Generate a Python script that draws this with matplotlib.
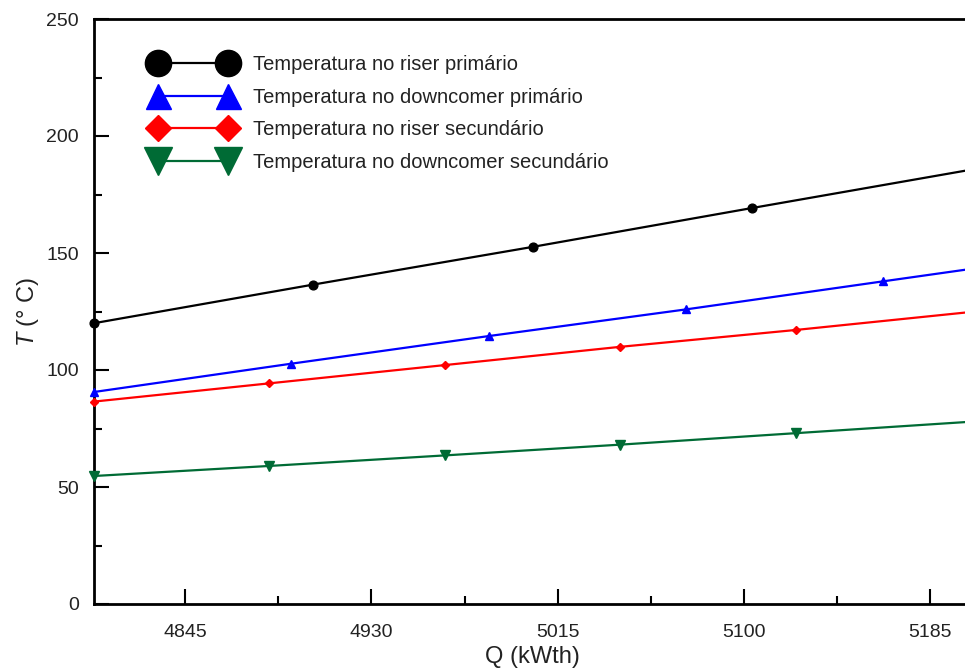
import matplotlib
matplotlib.use("Agg")
import matplotlib.pyplot as plt
from matplotlib.ticker import MultipleLocator, FixedLocator

plt.rcParams['font.family'] = ['Liberation Sans', 'DejaVu Sans']
plt.rcParams['mathtext.fontset'] = 'custom'
plt.rcParams['mathtext.rm'] = 'Liberation Sans'
plt.rcParams['mathtext.it'] = 'Liberation Sans:italic'

# ---- data ----
labels = ["Temperatura no riser primário",
          "Temperatura no downcomer primário",
          "Temperatura no riser secundário",
          "Temperatura no downcomer secundário"]

Q_riser_p = [4803.5, 4903.5, 5003.5, 5103.5, 5203.5]
T_riser_p = [120.0, 136.5, 152.6, 169.2, 185.6]

Q_down_p = [4803.5, 4893.5, 4983.5, 5073.5, 5163.5, 5203.5]
T_down_p = [90.6, 102.7, 114.5, 125.9, 137.9, 143.2]

Q_riser_s = [4803.5, 4883.5, 4963.5, 5043.5, 5123.5, 5203.5]
T_riser_s = [86.5, 94.3, 102.1, 109.9, 117.1, 124.8]

Q_down_s = [4803.5, 4883.5, 4963.5, 5043.5, 5123.5, 5203.5]
T_down_s = [54.7, 59.0, 63.5, 68.1, 73.0, 77.9]

x_ticks = [4845, 4930, 5015, 5100, 5185]
x_minor = [4887.5, 4972.5, 5057.5, 5142.5]
y_ticks = [0, 50, 100, 150, 200, 250]

# ---- figure ----
fig = plt.figure(figsize=(9.65, 6.70), dpi=100)
ax = fig.add_axes([94/965, 66/670, (971-94)/965, (651-66)/670])

series = [
    (Q_riser_p, T_riser_p, 'black', 'o', 6.3, None),
    (Q_down_p, T_down_p, '#0000ff', '^', 6.0, slice(0, 5)),
    (Q_riser_s, T_riser_s, '#ff0000', 'D', 4.5, slice(0, 5)),
    (Q_down_s, T_down_s, '#006b35', 'v', 6.5, slice(0, 5)),
]
for (q, t, c, m, ms, me), lab in zip(series, labels):
    ax.plot(q, t, color=c, marker=m, markersize=ms, linewidth=1.6,
            markevery=me, label=lab, clip_on=False, zorder=3)

ax.set_xlim(4803.5, 5203.5)
ax.set_ylim(0, 250)
ax.xaxis.set_major_locator(FixedLocator(x_ticks))
ax.xaxis.set_minor_locator(FixedLocator(x_minor))
ax.yaxis.set_major_locator(FixedLocator(y_ticks))
ax.yaxis.set_minor_locator(MultipleLocator(25))

ax.tick_params(which='both', direction='in', width=1.5, color='black',
               labelsize=14, labelcolor='#222222', top=False, right=False)
ax.tick_params(which='major', length=10.5, pad=11)
ax.tick_params(which='minor', length=5.5)
ax.tick_params(axis='x', which='major', pad=14.5)

for s in ['left', 'bottom', 'top']:
    ax.spines[s].set_linewidth(2.0)
ax.spines['right'].set_visible(False)

ax.set_xlabel('Q (kWth)', fontsize=17, color='#222222', labelpad=3.5)
ax.set_ylabel(r'$T$ (° C)', fontsize=17, color='#222222', labelpad=4)

leg = ax.legend(loc='upper left', bbox_to_anchor=(151.7/965, 615/670),
                bbox_transform=fig.transFigure, frameon=False,
                borderpad=0, borderaxespad=0, fontsize=14.5,
                handlelength=4.09, handletextpad=0.945, labelspacing=0.675,
                markerscale=3.0, numpoints=2)
for txt in leg.get_texts():
    txt.set_color('#222222')

fig.savefig('out.png', dpi=100)
